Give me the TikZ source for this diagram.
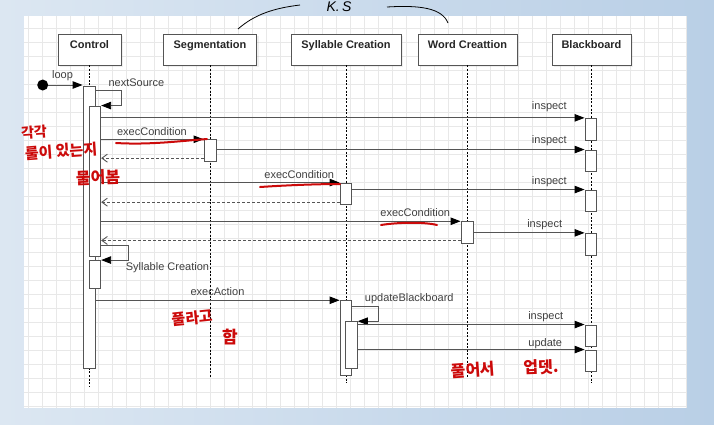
\documentclass[tikz,border=0pt]{standalone}
\usepackage{fontspec}
\setmainfont{Liberation Sans}
\newfontfamily\hangul{Noto Sans CJK KR}
\usetikzlibrary{arrows.meta,positioning,fit,shadows}
\definecolor{bgleft}{HTML}{DCE7F2}
\definecolor{bgright}{HTML}{B9CFE6}
\definecolor{gridgray}{HTML}{E8E8E8}
\definecolor{linegray}{HTML}{555555}
\definecolor{textgray}{HTML}{404040}
\definecolor{pen}{HTML}{CC0A0A}

\tikzset{
  head/.style={draw=linegray, fill=white, line width=0.9pt, minimum height=31pt,
    inner ysep=6.5pt, text height=8pt, text depth=10pt,
    font=\fontsize{11}{13}\selectfont\bfseries, text=black!85,
    drop shadow={opacity=0.12, shadow xshift=2pt, shadow yshift=-2pt}},
  life/.style={black, line width=0.7pt, dash pattern=on 2pt off 1.6pt},
  act/.style={draw=linegray, fill=white, line width=0.9pt, inner sep=0pt},
  msg/.style={linegray, line width=0.9pt, -{Triangle[length=10pt,width=7.5pt,black]}},
  ret/.style={linegray, line width=0.9pt, dash pattern=on 3pt off 2pt,
    -{Straight Barb[length=5.5pt,width=8pt]}},
  lbl/.style={font=\fontsize{11}{13}\selectfont, text=textgray, inner sep=0pt},
  tag/.style={lbl, anchor=base east, yshift=4.5pt},
  note/.style={font=\hangul\bfseries\fontsize{#1}{#1}\selectfont, text=pen, inner sep=0pt},
  ink/.style={pen, line width=2pt, line cap=round},
}

\begin{document}
\begin{tikzpicture}[x=1pt, y=-1pt]

	\useasboundingbox (0,0) rectangle (714,424);
	\shade[left color=bgleft, right color=bgright] (0,0) rectangle (714,424);
	\fill[white] (24,16) rectangle (686,408);
	\draw[gridgray, line width=0.8pt, step=14pt] (24,16) grid (686,408);

	% HEADS

	\node[head, minimum width=63pt] (hctl) at (89.5,49.5) {Control};
	\node[head, minimum width=93pt] (hseg) at (210,49.5) {Segmentation};
	\node[head, minimum width=110pt] (hsyl) at (346,49.5) {Syllable Creation};
	\node[head, minimum width=99pt] (hwrd) at (467.5,49.5) {Word Creattion};
	\node[head, minimum width=79pt] (hbb) at (591.5,49.5) {Blackboard};

	\coordinate (ectl) at (89.5,387);
	\coordinate (eseg) at (210,378);
	\coordinate (esyl) at (346,383);
	\coordinate (ewrd) at (467.5,378);
	\coordinate (ebb) at (591.5,383);

	\draw[life] (hctl) -- (ectl);
	\draw[life] (hseg) -- (eseg);
	\draw[life] (hsyl) -- (esyl);
	\draw[life] (hwrd) -- (ewrd);
	\draw[life] (hbb) -- (ebb);

	% BARS

	\node[act, fit={(83,86) (95,368)}] (ctl) {};
	\node[act, fit={(89.3,106) (100.7,256.7)}] (ctla) {};
	\node[act, fit={(89.3,260.5) (100.7,288.3)}] (ctlb) {};

	\node[act, fit={(204,139.7) (216,161)}] (seg) {};
	\node[act, fit={(340,183) (351.7,204.3)}] (syla) {};
	\node[act, fit={(461,221.7) (473.3,243.3)}] (wrd) {};
	\node[act, fit={(340,300.7) (351.7,375)}] (sylb) {};
	\node[act, fit={(345.7,321.7) (357.3,368.3)}] (sylc) {};

	\node[act, fit={(585,118.3) (596.7,140)}] (bb1) {};
	\node[act, fit={(585,150) (596.7,171)}] (bb2) {};
	\node[act, fit={(585,190) (596.7,211.7)}] (bb3) {};
	\node[act, fit={(585,233.3) (596.7,255)}] (bb4) {};
	\node[act, fit={(585,325) (596.7,346.7)}] (bb5) {};
	\node[act, fit={(585,350) (596.7,371.7)}] (bb6) {};

	% MESSAGES

	\node[circle, fill=black, minimum size=11pt, inner sep=0pt] (start) at (42.7,85) {};
	\draw[msg] (start) -- node[lbl, anchor=base, xshift=-3pt, yshift=6.7pt] {loop} (start -| ctl.west);

	\draw[msg] ([yshift=-5pt]ctl.north east) node[lbl, anchor=base west, xshift=12.7pt, yshift=4.3pt] {nextSource}
		-- ++(25.7,0) |- (ctla.north east);

	\draw[msg] (ctla.east |- bb1.north) -- (bb1.north west) node[tag, xshift=-17.3pt, yshift=4pt] {inspect};

	\draw[msg] (ctla.east |- seg.north) -- (seg.north west) node[tag, xshift=-16.3pt, yshift=-0.8pt] {execCondition};
	\coordinate (r1) at ([yshift=3.3pt]seg.south west);
	\draw[ret] (r1) -- (r1 -| ctla.east);
	\draw[msg] (seg.east |- bb2.north) -- (bb2.north west) node[tag, xshift=-17.3pt, yshift=1.2pt] {inspect};

	\draw[msg] (ctla.east |- syla.north) -- (syla.north west) node[tag, xshift=-5pt, yshift=-0.5pt] {execCondition};
	\coordinate (r2) at ([yshift=2.6pt]syla.south west);
	\draw[ret] (r2) -- (r2 -| ctla.east);
	\draw[msg] (syla.east |- bb3.north) -- (bb3.north west) node[tag, xshift=-17.3pt, yshift=0.5pt] {inspect};

	\draw[msg] (ctla.east |- wrd.north) -- (wrd.north west) node[tag, xshift=-10pt] {execCondition};
	\coordinate (r3) at ([yshift=3.3pt]wrd.south west);
	\draw[ret] (r3) -- (r3 -| ctla.east);
	\draw[msg] (wrd.east |- bb4.north) -- (bb4.north west) node[tag, xshift=-22pt, yshift=0.5pt] {inspect};

	\draw[msg] ([yshift=11.7pt]ctla.south east) -- ++(27,0)
		|- node[lbl, pos=0.5, anchor=base west, xshift=-2.7pt, yshift=-10.7pt] {Syllable Creation} (ctlb.north east);

	\draw[msg] (ctl.east |- sylb.north) -- node[lbl, anchor=base, yshift=4.7pt] {execAction} (sylb.north west);

	\draw[msg] ([yshift=-6pt]sylb.north east) node[lbl, anchor=base west, xshift=12.3pt, yshift=4.7pt] {updateBlackboard}
		-- ++(26.6,0) |- (sylc.north east);
	\draw[msg] (sylc.east |- bb5.north) -- (bb5.north west) node[tag, xshift=-21pt, yshift=0.2pt] {inspect};
	\draw[msg] (sylc.east |- bb6.north) -- (bb6.north west) node[tag, xshift=-22pt, yshift=-1.2pt] {update};

	% PEN NOTES

	\node[note=14, rotate=4] (n1) at (34,132) {각각};
	\node[note=15, rotate=4] (n2) at (61,151) {룰이 있는지};
	\node[note=16, rotate=2] (n3) at (98,177.5) {물어봄};
	\node[note=15, rotate=6] (n4) at (192.5,318) {풀라고};
	\node[note=17] (n5) at (230,337) {함};
	\node[note=16, rotate=4] (n6) at (473,370) {풀어서};
	\node[note=16, rotate=2] (n7) at (541,367) {업뎃.};

	\draw[ink] (116,143) .. controls (150,145) and (180,141) .. (207,139);
	\draw[ink] (260,187) .. controls (290,185) and (320,184) .. (340,184);
	\draw[ink] (381,225) .. controls (400,222) and (425,222) .. (437,225);

	\node[font=\fontsize{14}{14}\selectfont\itshape, anchor=base] (ks) at (339,11) {K.\,S};
	\draw[black, line width=0.8pt] (238,29) .. controls (255,14) and (275,8) .. (300,5);
	\draw[black, line width=0.8pt] (387,7) .. controls (420,5) and (442,8) .. (448,23);
\end{tikzpicture}
\end{document}
